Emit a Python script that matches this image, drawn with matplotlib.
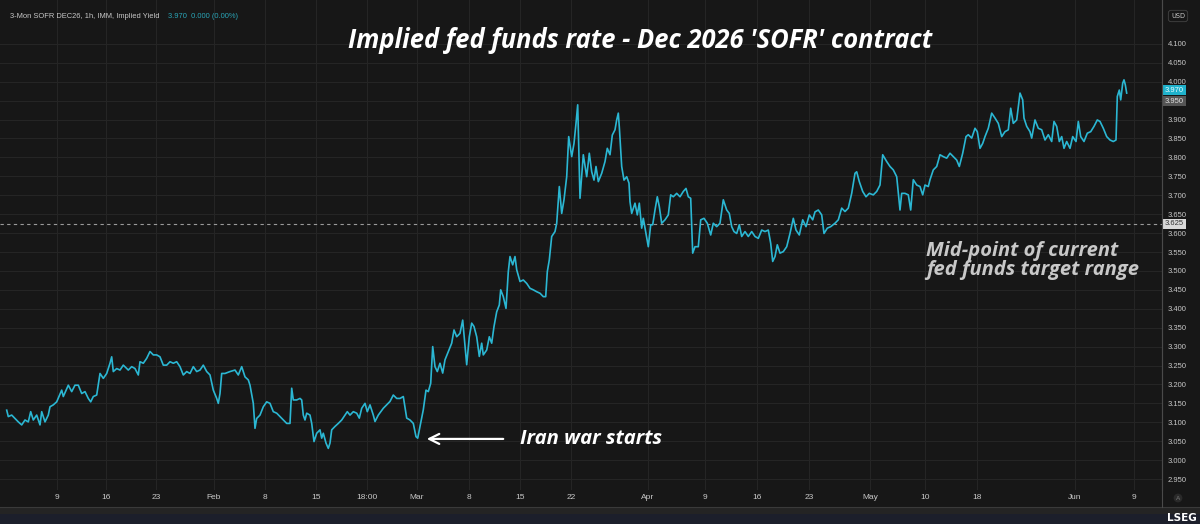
import numpy as np
import matplotlib
matplotlib.use('Agg')
import matplotlib.pyplot as plt
import matplotlib.transforms as mtransforms
from matplotlib.patches import Rectangle
from matplotlib.lines import Line2D

# hourly implied yield (position along the time axis, yield %)
jan_pos = [6.7, 8.3, 11.7, 15, 18.3, 21.7, 25, 28.3, 30.7, 33.3,
           36.7, 40, 41.7, 45, 48.3, 50, 53.3, 56.7, 61.7, 63.3,
           68.3, 71.7, 75, 78.3, 81.7, 85, 88.3, 90.7, 93.3, 96.7,
           100, 103.3, 106.7, 110, 111.7, 113.3, 116.7, 120, 123.3, 128.3,
           131.7, 135, 138.3, 140, 143.3, 146.7, 150, 153.3, 156.7, 160,
           163.3, 166.7, 170, 173.3, 176.7, 180, 183.3, 186.7, 190, 193.3,
           196.7, 200, 203.3, 206.7, 210, 213.3, 216.7, 218.3, 220, 221.7,
           225, 230, 235, 238.3, 241.7, 245, 248.3, 250, 253.3, 255,
           256.7, 260, 263.3, 266.7, 270, 273.3, 276.7, 280, 283.3, 286.7, 290]
jan_yld = [3.132, 3.115, 3.119, 3.110, 3.101, 3.093, 3.106, 3.101, 3.128, 3.106,
           3.119, 3.093, 3.128, 3.101, 3.119, 3.141, 3.146, 3.154, 3.185, 3.168,
           3.198, 3.181, 3.198, 3.198, 3.176, 3.181, 3.163, 3.154, 3.168, 3.172,
           3.229, 3.216, 3.229, 3.256, 3.273, 3.234, 3.242, 3.238, 3.251, 3.238,
           3.247, 3.242, 3.225, 3.260, 3.256, 3.269, 3.287, 3.278, 3.278, 3.273,
           3.251, 3.251, 3.260, 3.256, 3.260, 3.247, 3.225, 3.234, 3.229, 3.247,
           3.234, 3.238, 3.251, 3.234, 3.225, 3.185, 3.163, 3.150, 3.176, 3.229,
           3.229, 3.234, 3.238, 3.225, 3.247, 3.220, 3.212, 3.198, 3.150, 3.084,
           3.110, 3.119, 3.141, 3.154, 3.150, 3.128, 3.124, 3.115, 3.106, 3.097, 3.097]

mar_pos = [291.7, 293.3, 296.7, 300, 301.7, 303.3, 305, 306.7, 310, 311.7,
           314, 316.7, 320, 321.7, 323.3, 326, 328.3, 330, 331.7, 335,
           338.3, 341.7, 345, 347.3, 350, 353.3, 356.7, 359.3, 361.7, 365,
           367.3, 370, 373.3, 375, 378.3, 383.3, 386.7, 390, 393.3, 396.7,
           400, 403.3, 406.7, 410, 413.3, 416, 417.7, 420, 423.3, 426,
           428.3, 430.7, 432.7, 435, 437.3, 440, 442.7, 445, 448.3, 451.7,
           454, 456.7, 460, 462.7, 464, 466.7, 469.3, 471.7, 474, 476.7,
           479.3, 481.7, 483.3, 486.7, 489.3, 491.7, 494, 496.7, 499.3, 500.7,
           503.3, 506, 508.3, 510, 512.7, 515, 516.7, 520, 523.3, 526.7,
           530, 533.3, 536.7, 540, 543.3, 545.7, 547.3, 549.3, 551.7, 555,
           556.7, 559.3, 561.7, 564, 566.7, 568.7, 571.7, 574, 576, 577.7]
mar_yld = [3.190, 3.159, 3.159, 3.163, 3.159, 3.119, 3.106, 3.124, 3.119, 3.097,
           3.049, 3.071, 3.080, 3.058, 3.071, 3.045, 3.031, 3.045, 3.080, 3.089,
           3.097, 3.106, 3.119, 3.128, 3.119, 3.128, 3.124, 3.111, 3.137, 3.150,
           3.128, 3.146, 3.119, 3.102, 3.119, 3.137, 3.146, 3.155, 3.172, 3.163,
           3.163, 3.168, 3.111, 3.106, 3.097, 3.062, 3.058, 3.089, 3.133, 3.185,
           3.181, 3.203, 3.300, 3.247, 3.234, 3.256, 3.230, 3.265, 3.287, 3.309,
           3.344, 3.326, 3.335, 3.370, 3.331, 3.252, 3.326, 3.362, 3.353, 3.326,
           3.274, 3.309, 3.278, 3.291, 3.326, 3.309, 3.353, 3.392, 3.410, 3.450,
           3.432, 3.401, 3.498, 3.538, 3.516, 3.538, 3.503, 3.472, 3.476, 3.467,
           3.454, 3.450, 3.445, 3.441, 3.432, 3.432, 3.498, 3.529, 3.591, 3.604,
           3.626, 3.723, 3.652, 3.688, 3.749, 3.855, 3.802, 3.837, 3.890, 3.939]

apr_pos = [580, 583.3, 586.7, 589.3, 591.7, 594, 596, 598.3, 601.7, 605,
           607.3, 610, 612.3, 615, 616.7, 618.3, 619.3, 621.7, 624, 626.7,
           629, 630, 631.7, 635, 637.3, 639.3, 641.7, 643.3, 646, 648.3,
           650.7, 652.7, 655, 657.3, 659.3, 661.7, 665, 668.3, 670.7, 673.3,
           676.7, 680, 683.3, 686, 688.3, 690.7, 692.7, 695, 698.3, 700.7,
           704, 707.3, 710.7, 713.3, 716.7, 720, 723.3, 726.7, 729.3, 731.7,
           734, 736.7, 739.3, 741.7, 745, 748.3, 751.7, 755, 758.3, 761.7,
           765, 768.3, 770.7, 772.7, 775, 777.3, 780, 783.3, 786.7, 790,
           793.3, 796, 799.3, 802.7, 806, 809.3, 812.7, 815, 818.3, 821.7,
           824, 827.3, 830.7, 835, 838.3, 841.7, 845, 848.3, 851.7, 855,
           856.7, 859.3, 862.7, 866, 869.3, 873.3, 876.7]
apr_yld = [3.692, 3.807, 3.749, 3.811, 3.762, 3.740, 3.776, 3.736, 3.758, 3.789,
           3.824, 3.807, 3.859, 3.873, 3.899, 3.917, 3.881, 3.776, 3.740, 3.749,
           3.732, 3.683, 3.652, 3.679, 3.648, 3.679, 3.613, 3.639, 3.599, 3.564,
           3.622, 3.622, 3.661, 3.696, 3.670, 3.626, 3.635, 3.648, 3.701, 3.696,
           3.705, 3.696, 3.710, 3.718, 3.696, 3.692, 3.547, 3.564, 3.564, 3.635,
           3.639, 3.626, 3.595, 3.626, 3.617, 3.626, 3.688, 3.661, 3.652, 3.617,
           3.604, 3.599, 3.622, 3.591, 3.604, 3.591, 3.604, 3.591, 3.586, 3.608,
           3.604, 3.608, 3.573, 3.525, 3.538, 3.569, 3.547, 3.551, 3.564, 3.599,
           3.639, 3.608, 3.595, 3.635, 3.617, 3.648, 3.635, 3.656, 3.661, 3.648,
           3.599, 3.613, 3.617, 3.626, 3.635, 3.666, 3.657, 3.666, 3.705, 3.758,
           3.762, 3.736, 3.710, 3.696, 3.705, 3.701, 3.710]

may_pos = [880, 882.7, 886.7, 890, 893.3, 896.7, 898.3, 900, 901.7, 905,
           908.3, 910.7, 913.3, 916.7, 920, 922.7, 925, 928.3, 930, 933.3,
           936.7, 940, 943.3, 946.7, 950, 953.3, 956.7, 959.3, 962.7, 966,
           968.3, 971.7, 975, 977.3, 980, 982.7, 985, 988.3, 991.7, 995,
           998.3, 1001.7, 1005, 1008.3, 1010.7, 1013.3, 1016.7, 1020, 1022.7, 1024,
           1026.7, 1030, 1031.7, 1035, 1038.3, 1041.7, 1045, 1048.3, 1051.7, 1054,
           1056.7, 1059.3, 1061.7, 1064, 1066.7, 1070, 1072.7, 1076, 1078.3, 1080.7,
           1084, 1087.3, 1090.7, 1094, 1097.3, 1100, 1103.3, 1106.7, 1110, 1113.3,
           1116, 1117.3, 1119.3, 1120.7, 1122.7, 1124, 1125.3, 1126.7]
may_yld = [3.727, 3.807, 3.789, 3.776, 3.767, 3.749, 3.705, 3.661, 3.705, 3.705,
           3.701, 3.661, 3.741, 3.727, 3.723, 3.701, 3.727, 3.723, 3.741, 3.767,
           3.776, 3.807, 3.802, 3.798, 3.811, 3.802, 3.793, 3.776, 3.811, 3.855,
           3.860, 3.851, 3.877, 3.868, 3.824, 3.837, 3.855, 3.877, 3.917, 3.904,
           3.890, 3.855, 3.868, 3.873, 3.930, 3.890, 3.899, 3.970, 3.952, 3.904,
           3.882, 3.868, 3.851, 3.899, 3.877, 3.873, 3.846, 3.860, 3.842, 3.895,
           3.882, 3.842, 3.855, 3.824, 3.842, 3.824, 3.855, 3.842, 3.895, 3.855,
           3.842, 3.864, 3.868, 3.882, 3.899, 3.895, 3.877, 3.855, 3.846, 3.842,
           3.846, 3.961, 3.978, 3.952, 3.996, 4.005, 3.992, 3.970]

tick_pos = [57, 106, 156, 214, 265, 316, 367, 417, 469, 520,
            571, 648, 705, 757, 809, 870, 925, 977, 1075, 1134]
tick_lab = ['9', '16', '23', 'Feb', '8', '15', '18:00', 'Mar', '8', '15',
            '22', 'Apr', '9', '16', '23', 'May', '10', '18', 'Jun', '9']

last_price = 3.970
high_price = 3.950
midpoint = 3.625

BG = '#171717'
GRID = '#252525'
LINE = '#2bb7d3'
TXT = '#c8c8c8'
W, H = 1200, 524

fig = plt.figure(figsize=(W / 100, H / 100), dpi=100, facecolor=BG)
ax = fig.add_axes([0, 34 / H, 1162 / W, 490 / H])
ax.set_facecolor(BG)

pos = jan_pos + mar_pos + apr_pos + may_pos
yld = jan_yld + mar_yld + apr_yld + may_yld
ax.plot(pos, yld, color=LINE, lw=1.2, zorder=3)
ax.axhline(midpoint, color='#9a9a9a', lw=0.8, ls=(0, (3, 3)), zorder=2)

ax.set_xlim(0, 1162)
ax.set_ylim(2.921, 4.216)
yt = np.arange(2.95, 4.1001, 0.05)
# the 3.950 level is covered by its own price box, as on the terminal
ylabels = ['' if abs(v - high_price) < 1e-6 else f'{v:.3f}' for v in yt]
ax.yaxis.tick_right()
ax.set_yticks(yt, ylabels)
ax.set_xticks(tick_pos, tick_lab)
ax.tick_params(axis='y', length=0, pad=4, labelsize=5.5, labelcolor=TXT)
ax.tick_params(axis='x', length=0, pad=3, labelsize=6, labelcolor=TXT)
for lab in ax.get_yticklabels() + ax.get_xticklabels():
    lab.set_fontfamily('Liberation Sans')
ax.grid(color=GRID, lw=0.8, zorder=0)
for s in ['top', 'bottom', 'left']:
    ax.spines[s].set_visible(False)
ax.spines['right'].set_color('#4a4a4a')

# bottom bands and axis separator
fig.patches.append(Rectangle((0, 0), 1, 10 / H, transform=fig.transFigure,
                             facecolor='#1c1f2b', edgecolor='none'))
fig.patches.append(Rectangle((0, 10 / H), 1, 7 / H, transform=fig.transFigure,
                             facecolor='#242424', edgecolor='none'))
fig.lines.append(Line2D([0, 1], [17 / H, 17 / H], transform=fig.transFigure,
                        color='#3a3a3a', lw=0.8))
fig.lines.append(Line2D([1162 / W, 1162 / W], [17 / H, 1], transform=fig.transFigure,
                        color='#4a4a4a', lw=0.8))

# price boxes on the right axis
tr = mtransforms.blended_transform_factory(fig.transFigure, ax.transData)
ax.text(1165 / W, last_price + 0.008, f'{last_price:.3f}', transform=tr, fontsize=5.5,
        color='#e6fbff', va='center', ha='left', family='Liberation Sans',
        bbox=dict(boxstyle='square,pad=0.2', fc='#1fb2cc', ec='none'), zorder=5)
ax.text(1165 / W, high_price - 0.002, f'{high_price:.3f}', transform=tr, fontsize=5.5,
        color='#e0e0e0', va='center', ha='left', family='Liberation Sans',
        bbox=dict(boxstyle='square,pad=0.2', fc='#555555', ec='none'), zorder=5)
ax.text(1165 / W, midpoint, f'{midpoint:.3f}', transform=tr, fontsize=5.5,
        color='#333333', va='center', ha='left', family='Liberation Sans',
        bbox=dict(boxstyle='square,pad=0.2', fc='#d9d9d9', ec='none'), zorder=5)

fig.text(1178 / W, 1 - 16 / H, 'USD', fontsize=4.8, color=TXT, ha='center', va='center',
         bbox=dict(boxstyle='round,pad=0.4', fc=BG, ec='#444444', lw=0.6))
fig.text(1178 / W, 1 - 498 / H, 'A', fontsize=4.5, color='#777777', ha='center', va='center',
         bbox=dict(boxstyle='circle,pad=0.3', fc='#2a2a2a', ec='none'))
fig.text(1197 / W, 1 - 518 / H, 'LSEG', fontsize=7.5, weight='bold', color='white',
         ha='right', va='center')

# header and titles
fig.text(10 / W, 1 - 16 / H, '3-Mon SOFR DEC26, 1h, IMM, Implied Yield', fontsize=5.4,
         color=TXT, va='center', family='Liberation Sans')
fig.text(168 / W, 1 - 16 / H, '3.970  0.000 (0.00%)', fontsize=5.4,
         color='#2aa6b8', va='center', family='Liberation Sans')

font = dict(family=['Open Sans', 'DejaVu Sans'], style='italic', weight='bold')
fig.text(640 / W, 1 - 40 / H, "Implied fed funds rate - Dec 2026 'SOFR' contract",
         fontsize=18.4, color='white', ha='center', va='center', **font)
fig.text(926 / W, 1 - 251 / H, 'Mid-point of current', fontsize=14.5,
         color=TXT, ha='left', va='center', **font)
fig.text(926 / W, 1 - 270 / H, 'fed funds target range', fontsize=14.5,
         color=TXT, ha='left', va='center', **font)
fig.text(520 / W, 1 - 439 / H, 'Iran war starts', fontsize=14.6,
         color='white', ha='left', va='center', **font)
ax.annotate('', xy=(424, 3.056), xytext=(506, 3.056),
            arrowprops=dict(arrowstyle='->', color='white', lw=1.6, mutation_scale=18))

fig.savefig('out.png', dpi=100, facecolor=BG)
